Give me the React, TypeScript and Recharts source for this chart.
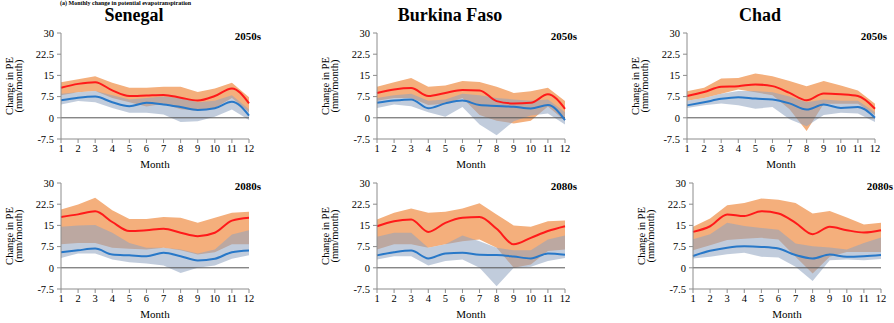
import { Area, ComposedChart, Line, ReferenceLine, XAxis, YAxis } from 'recharts';

const months = [1, 2, 3, 4, 5, 6, 7, 8, 9, 10, 11, 12];
const yTicks = [-7.5, 0, 7.5, 15, 22.5, 30];
const countries = ['Senegal', 'Burkina Faso', 'Chad'];
const periods = ['2050s', '2080s'];

// Senegal
const senegal50RedHi = [12.6, 13.6, 14.7, 12.4, 10.6, 10.6, 11, 11, 9.1, 10.4, 12.4, 7.3];
const senegal50Red = [10.6, 12, 12.6, 9.7, 7.7, 7.9, 8.1, 7.1, 6.1, 7.7, 10.4, 5.1];
const senegal50RedLo = [8, 9, 9.5, 7, 5.5, 4, 5, 3, 2.5, 3.5, 7, 2];
const senegal50BlueHi = [8.5, 9, 9.5, 8, 6.5, 7, 7.5, 7, 5.5, 6, 8, 3];
const senegal50Blue = [6.2, 7.1, 7.5, 5.5, 4.1, 5.3, 4.7, 3.8, 2.8, 3.4, 5.7, 0.8];
const senegal50BlueLo = [4.7, 5.9, 5.5, 3.5, 1.8, 1.8, 1.2, -1.5, -1.2, 0.4, 2.9, -0.8];

const senegal80RedHi = [20.6, 22.4, 24.8, 20.4, 17.3, 17.3, 18, 17.7, 15.9, 17.7, 19.5, 19.8];
const senegal80Red = [18, 18.9, 20, 16.2, 13, 13.3, 13.8, 12.4, 11.2, 12.4, 16.7, 17.7];
const senegal80RedLo = [8.3, 8.8, 8.8, 7.1, 6.7, 6.5, 7.1, 6.2, 4.7, 5.5, 8.3, 8.3];
const senegal80BlueHi = [14.5, 15, 15.1, 12.4, 8.8, 7.1, 7.1, 6.5, 5.1, 6.5, 11.8, 13.3];
const senegal80Blue = [5.5, 6.2, 6.8, 4.7, 4.4, 4.1, 5.3, 4.1, 2.6, 3.2, 5.5, 6.1];
const senegal80BlueLo = [3.5, 5.1, 5.1, 2.9, 2, 1.5, 0.8, -1.8, 0, 0.8, 3.2, 4.4];

// Burkina Faso
const burkina50RedHi = [11, 12.6, 14.1, 11, 11.4, 13, 12.7, 11, 8.8, 9.4, 10.6, 5.9];
const burkina50Red = [8.8, 10, 10.5, 7.7, 8.8, 9.8, 9.7, 5.9, 5.1, 5.3, 8.3, 3.2];
const burkina50RedLo = [6, 7, 7, 4.5, 5, 7, 1, -1, -2, -1, 4, -1];
const burkina50BlueHi = [7, 8, 8.5, 6, 6.5, 8.5, 8, 7, 6.5, 6, 6.5, 2];
const burkina50Blue = [5.3, 6.1, 6.5, 3.4, 5.1, 6.1, 4.5, 4.2, 3.9, 3.3, 4.5, -0.8];
const burkina50BlueLo = [3.5, 4.7, 4.1, 2, 0.4, 3.8, -2.4, -6.2, -1.2, 0.8, 1.5, -2.4];

const burkina80RedHi = [17.1, 19.5, 21, 19.5, 19.8, 21, 22.8, 18.9, 15, 14.5, 16.5, 16.7];
const burkina80Red = [14.7, 16.5, 17.1, 12.7, 15.9, 17.7, 18, 13.8, 8.3, 10.6, 13, 14.7];
const burkina80RedLo = [6.5, 8.3, 8.3, 7.1, 8.3, 9.4, 10, 7.1, 0, 1.2, 5.9, 6.5];
const burkina80BlueHi = [11, 12.4, 12.4, 7.1, 8.3, 11.4, 9.4, 7.1, 6.2, 6.2, 10, 11.4];
const burkina80Blue = [4.4, 5.5, 6.1, 3.3, 5.1, 5.3, 4.6, 4.5, 4, 3.3, 5.1, 4.6];
const burkina80BlueLo = [2.9, 4.1, 4.1, 0.8, 2.4, 2.9, 0, -6.5, 0, 0.4, 2.4, 3.5];

// Chad
const chad50RedHi = [9.4, 10.6, 13.9, 14.1, 15.7, 14.7, 13, 11.2, 13, 11.4, 9.7, 5];
const chad50Red = [7.7, 9.1, 11, 11.2, 11.8, 11.2, 8.8, 6.2, 8.6, 8.3, 7.7, 3.2];
const chad50RedLo = [6, 7, 8.5, 10, 9, 8, 3, -4.7, 5, 5, 5, 1];
const chad50BlueHi = [6, 7, 8.5, 9.5, 9.5, 9, 7.5, 5.5, 6.5, 6, 6, 2];
const chad50Blue = [4.4, 5.5, 6.7, 7.3, 6.8, 6.5, 5.1, 2.9, 4.7, 3.5, 3.8, 0];
const chad50BlueLo = [3.5, 4.4, 5.1, 4.4, 3.2, 3.8, -0.5, -3, 1, 1.8, 1.5, -1.5];

const chad80RedHi = [14.5, 17.4, 22.1, 22.9, 24.5, 24.1, 22.9, 19.2, 20.1, 17.8, 15.3, 15.9];
const chad80Red = [12.7, 14.7, 18.9, 18.3, 20, 19.2, 15.9, 11.9, 14.5, 13.3, 12.5, 13.3];
const chad80RedLo = [6.2, 8, 9.8, 10.3, 10.6, 10, 3.9, -2, 3.9, 5.6, 5.6, 5.6];
const chad80BlueHi = [10.1, 11.9, 15.9, 14.8, 14.1, 13.5, 8.6, 7.6, 7.2, 6.5, 8.8, 10.7];
const chad80Blue = [4.2, 6, 7.1, 7.6, 7.4, 6.8, 4.5, 3.3, 4.7, 3.9, 4.1, 4.5];
const chad80BlueLo = [3.3, 3.9, 4.8, 5.3, 3.9, 3.6, 0.4, -4.7, 2.7, 2.9, 2.7, 3.1];

const serif = 'Liberation Serif, Times New Roman, serif';

type PanelProps = {
    axisX: number; // left edge of plot area
    yTop: number;  // y of the 30 gridline
    title?: string;
    period: string;
    redHi: number[]; red: number[]; redLo: number[];
    blueHi: number[]; blue: number[]; blueLo: number[];
};

function Panel({axisX, yTop, title, period, redHi, red, redLo, blueHi, blue, blueLo}: PanelProps) {
    const data = months.map((m, i) => ({
        month: m,
        red: red[i],
        blue: blue[i],
        redBand: [redLo[i], redHi[i]],
        blueBand: [blueLo[i], blueHi[i]],
    }));
    const plotW = 188;
    const plotH = 106;
    const tickStyle = {fill: '#000', fontSize: 10.5, fontFamily: serif, style: {fontFamily: serif}};

    return <>
        {title && <div style={{position: 'absolute', left: axisX + plotW / 2 - 21 - 100, top: 7, width: 200,
            textAlign: 'center', fontWeight: 'bold', fontSize: 18, lineHeight: '17px'}}>{title}</div>}

        <div style={{position: 'absolute', left: axisX - 46 - 60, top: yTop + plotH / 2 - 10, width: 120, height: 20,
            transform: 'rotate(-90deg)', textAlign: 'center', fontSize: 10.5, lineHeight: '9px'}}>
            <div>Change in PE</div>
            <div>(mm/month)</div>
        </div>

        <div style={{position: 'absolute', left: axisX - 40, top: yTop - 8}}>
            <ComposedChart width={40 + plotW + 14} height={8 + plotH + 32} data={data}
                margin={{top: 8, right: 14, bottom: 0, left: 0}} style={{fontFamily: serif}}>
                <XAxis dataKey="month" type="number" domain={[1, 12]} ticks={months} interval={0}
                    tickSize={4} tickMargin={2} stroke="#8c8c8c" tick={tickStyle} height={32}
                    label={{value: 'Month', position: 'insideBottom', offset: 3, fill: '#000', fontSize: 11, fontFamily: serif}} />
                <YAxis type="number" domain={[-7.5, 30]} ticks={yTicks} interval={0} width={40}
                    tickSize={4} tickMargin={3} stroke="#8c8c8c" tick={tickStyle} allowDataOverflow />
                <Area dataKey="redBand" type="linear" fill="#F4AF7C" fillOpacity={1} stroke="none" isAnimationActive={false} />
                <Area dataKey="blueBand" type="linear" fill="#8EA3BF" fillOpacity={0.55} stroke="none" isAnimationActive={false} />
                <ReferenceLine y={0} stroke="#555" strokeWidth={1} />
                <Line dataKey="red" type="monotone" stroke="#FF1A1A" strokeWidth={2} dot={false} isAnimationActive={false} />
                <Line dataKey="blue" type="monotone" stroke="#2878C8" strokeWidth={2} dot={false} isAnimationActive={false} />
            </ComposedChart>
        </div>

        <div style={{position: 'absolute', left: axisX + plotW + 12 - 60, top: yTop - 3, width: 60, textAlign: 'right',
            fontWeight: 'bold', fontSize: 11, lineHeight: '13px'}}>{period}</div>
    </>
}

function App() {
    return <div style={{position: 'absolute', left: 0, top: 0, width: 894, height: 323, background: '#fff',
        overflow: 'hidden', fontFamily: serif, color: '#000'}}>
        {/* figure caption, mostly cut off above the panels in the source */}
        <div style={{position: 'absolute', left: 60, top: 0, fontWeight: 'bold', fontSize: 6, lineHeight: '6px', whiteSpace: 'nowrap'}}>
            (a) Monthly change in potential evapotranspiration
        </div>

        <Panel axisX={61} yTop={33} title={countries[0]} period={periods[0]}
            redHi={senegal50RedHi} red={senegal50Red} redLo={senegal50RedLo}
            blueHi={senegal50BlueHi} blue={senegal50Blue} blueLo={senegal50BlueLo} />
        <Panel axisX={377} yTop={33} title={countries[1]} period={periods[0]}
            redHi={burkina50RedHi} red={burkina50Red} redLo={burkina50RedLo}
            blueHi={burkina50BlueHi} blue={burkina50Blue} blueLo={burkina50BlueLo} />
        <Panel axisX={687} yTop={33} title={countries[2]} period={periods[0]}
            redHi={chad50RedHi} red={chad50Red} redLo={chad50RedLo}
            blueHi={chad50BlueHi} blue={chad50Blue} blueLo={chad50BlueLo} />

        <Panel axisX={61} yTop={183} period={periods[1]}
            redHi={senegal80RedHi} red={senegal80Red} redLo={senegal80RedLo}
            blueHi={senegal80BlueHi} blue={senegal80Blue} blueLo={senegal80BlueLo} />
        <Panel axisX={377} yTop={183} period={periods[1]}
            redHi={burkina80RedHi} red={burkina80Red} redLo={burkina80RedLo}
            blueHi={burkina80BlueHi} blue={burkina80Blue} blueLo={burkina80BlueLo} />
        <Panel axisX={693} yTop={183} period={periods[1]}
            redHi={chad80RedHi} red={chad80Red} redLo={chad80RedLo}
            blueHi={chad80BlueHi} blue={chad80Blue} blueLo={chad80BlueLo} />
    </div>
}

export default App;
